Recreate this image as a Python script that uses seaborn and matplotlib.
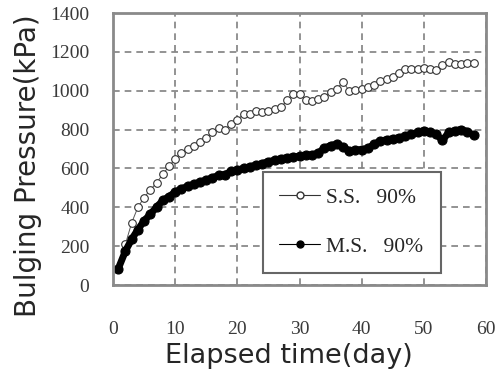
import matplotlib
matplotlib.use("Agg")
import matplotlib.pyplot as plt
import seaborn as sns
import pandas as pd
from matplotlib.lines import Line2D

ss_days = [0.8, 2, 3, 4, 5, 6, 7, 8, 9, 10, 11, 12, 13, 14, 15, 16, 17, 18, 19, 20,
           21, 22, 23, 24, 25, 26, 27, 28, 29, 30, 31, 32, 33, 34, 35, 36, 37, 38, 39, 40,
           41, 42, 43, 44, 45, 46, 47, 48, 49, 50, 51, 52, 53, 54, 55, 56, 57, 58]
ss_vals = [80, 210, 320, 400, 450, 490, 525, 570, 610, 650, 680, 700, 715, 735, 755, 785, 810, 800, 830, 850,
           880, 880, 895, 890, 895, 905, 915, 950, 985, 985, 950, 945, 955, 970, 995, 1010, 1045, 1000, 1005, 1010,
           1020, 1030, 1050, 1060, 1070, 1090, 1110, 1110, 1110, 1115, 1110, 1105, 1130, 1150, 1135, 1135, 1145, 1145]

ms_days = ss_days
ms_vals = [80, 175, 235, 285, 330, 365, 400, 435, 455, 478, 495, 508, 518, 530, 540, 552, 565, 568, 585, 592,
           600, 608, 617, 625, 635, 642, 650, 655, 660, 662, 667, 670, 678, 705, 718, 725, 710, 690, 695, 697,
           703, 725, 740, 748, 752, 758, 765, 775, 785, 795, 788, 775, 745, 785, 795, 800, 790, 770]

series_labels = ["S.S.   90%", "M.S.   90%"]
x_ticks = [0, 10, 20, 30, 40, 50, 60]
y_ticks = [0, 200, 400, 600, 800, 1000, 1200, 1400]
y_ticklabels = ["0", "200", "400", "600", "800", "1000", "1200", "1400"]

sns.set_style("white")
plt.rcParams['font.family'] = ['DejaVu Sans']

fig = plt.figure(figsize=(4.99, 3.85), dpi=100)
ax = fig.add_axes([113/499, 1-285/385, 373/499, 272/385])

ss = pd.DataFrame({"day": ss_days, "val": ss_vals})
ms = pd.DataFrame({"day": ms_days, "val": ms_vals})

sns.lineplot(data=ss, x="day", y="val", ax=ax, color="#555555", lw=0.7,
             marker="o", markersize=5.5, markerfacecolor="white",
             markeredgecolor="#333333", markeredgewidth=0.8)
sns.lineplot(data=ms, x="day", y="val", ax=ax, color="black", lw=5,
             marker="o", markersize=6.5, markerfacecolor="black",
             markeredgecolor="black", markeredgewidth=0.8)

ax.set_xlim(0, 60)
ax.set_ylim(0, 1400)
ax.set_xticks(x_ticks)
ax.set_yticks(y_ticks)
ax.set_yticklabels(y_ticklabels)
ax.grid(True, color="#808080", linestyle=(0, (4, 3)), linewidth=1.2)
ax.set_axisbelow(True)
for s in ax.spines.values():
    s.set_color("#8a8a8a")
    s.set_linewidth(2)
    s.set_visible(True)

ax.tick_params(axis="x", direction="in", length=5, width=1, color="#777777", pad=26,
               labelsize=14, labelcolor="#3a3a3a")
ax.tick_params(axis="y", direction="in", length=0, pad=17,
               labelsize=14, labelcolor="#3a3a3a")
for lab in ax.get_xticklabels() + ax.get_yticklabels():
    lab.set_family("Liberation Serif")

ax.set_xlabel("Elapsed time(day)", fontsize=19.5)
ax.set_ylabel("Bulging Pressure(kPa)", fontsize=20)
ax.xaxis.set_label_coords(0.472, -0.215)
ax.yaxis.set_label_coords(-0.19, 0.44)

hs = [Line2D([], [], color="#333333", lw=0.8, marker="o", markersize=5, markerfacecolor="white",
             markeredgecolor="#333333"),
      Line2D([], [], color="black", lw=0.8, marker="o", markersize=5, markerfacecolor="black",
             markeredgecolor="black")]
leg = ax.legend(hs, series_labels, loc="lower left",
                bbox_to_anchor=(0.402, 0.044, 0.477, 0.353), mode="expand", borderaxespad=0,
                frameon=True, fancybox=False, prop={"family": "Liberation Serif", "size": 15.5},
                labelspacing=1.35, handlelength=1.9, borderpad=0.75, handletextpad=0.3)
leg.get_frame().set_edgecolor("#666666")
leg.get_frame().set_linewidth(1.5)
leg.get_frame().set_facecolor("white")
leg.get_frame().set_alpha(1)

fig.savefig("out.png", dpi=100)
